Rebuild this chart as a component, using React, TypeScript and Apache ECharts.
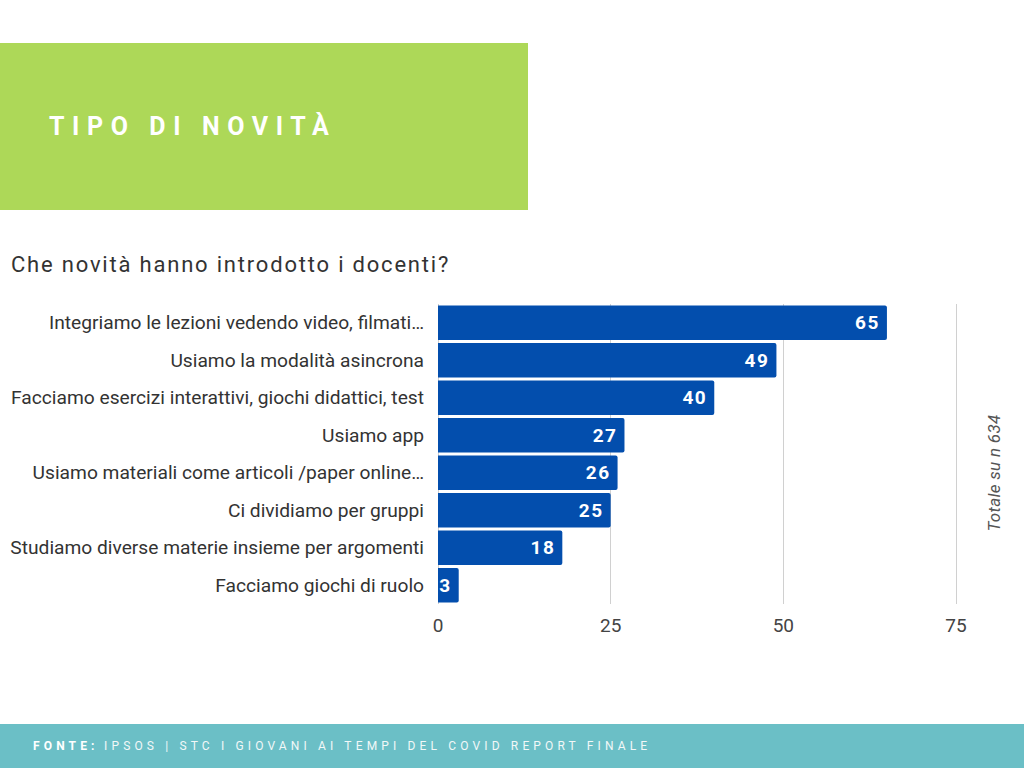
import React, { useEffect, useRef } from "react";
import * as echarts from "echarts";

const categories = [
  "Integriamo le lezioni vedendo video, filmati…",
  "Usiamo la modalità asincrona",
  "Facciamo esercizi interattivi, giochi didattici, test",
  "Usiamo app",
  "Usiamo materiali come articoli /paper online…",
  "Ci dividiamo per gruppi",
  "Studiamo diverse materie insieme per argomenti",
  "Facciamo giochi di ruolo",
];
const values = [65, 49, 40, 27, 26, 25, 18, 3];
const axisTicks = [0, 25, 50, 75];

const titleText = "TIPO DI NOVITÀ";
const subtitleText = "Che novità hanno introdotto i docenti?";
const noteText = "Totale su n 634";
const sourceLabel = "FONTE:";
const sourceText = "IPSOS | STC I GIOVANI AI TEMPI DEL COVID REPORT FINALE";

export default function App() {
  const ref = useRef<HTMLDivElement>(null);
  useEffect(() => {
    if (!ref.current) return;
    const chart = echarts.init(ref.current, undefined, { renderer: "svg" });
    const font = "Roboto, 'Noto Sans', sans-serif";
    chart.setOption({
      animation: false,
      backgroundColor: "#ffffff",
      textStyle: { fontFamily: font },
      grid: { left: 438, right: 68, top: 304, bottom: 164, containLabel: false },
      xAxis: {
        type: "value",
        min: axisTicks[0],
        max: axisTicks[axisTicks.length - 1],
        interval: 25,
        axisLine: { show: false },
        axisTick: { show: false },
        splitLine: { show: true, lineStyle: { color: "#d0d0d0", width: 1 } },
        axisLabel: { color: "#444444", fontSize: 19, margin: 12, fontFamily: font },
      },
      yAxis: {
        type: "category",
        data: categories,
        inverse: true,
        axisLine: { show: false },
        axisTick: { show: false },
        axisLabel: { color: "#333", fontSize: 19.2, margin: 14, fontFamily: font },
      },
      series: [
        {
          type: "bar",
          data: values,
          barCategoryGap: "8%",
          itemStyle: { color: "#034ead", borderRadius: [0, 2, 2, 0] },
          label: {
            show: true,
            position: "insideRight",
            color: "#ffffff",
            fontWeight: "bold",
            fontSize: 19,
            distance: 7,
            fontFamily: font,
          },
        },
      ],
      graphic: [
        { type: "rect", left: 0, top: 43, shape: { width: 528, height: 167 }, style: { fill: "#add858" }, silent: true },
        {
          type: "text",
          x: 49,
          y: 126,
          style: { text: titleText, fill: "#ffffff", font: `bold 25px ${font}`, verticalAlign: "middle" },
          silent: true,
        },
        {
          type: "text",
          x: 11,
          y: 264,
          style: { text: subtitleText, fill: "#333333", font: `22px ${font}`, verticalAlign: "middle" },
          silent: true,
        },
        {
          type: "text",
          x: 994,
          y: 473,
          rotation: Math.PI / 2,
          style: {
            text: noteText,
            fill: "#555555",
            font: `italic 17px ${font}`,
            align: "center",
            verticalAlign: "middle",
          },
          silent: true,
        },
        { type: "rect", left: 0, top: 724, shape: { width: 1024, height: 44 }, style: { fill: "#6bbfc6" }, silent: true },
        {
          type: "text",
          x: 33,
          y: 746,
          style: { text: sourceLabel, fill: "#ffffff", font: `bold 12px ${font}`, verticalAlign: "middle" },
          silent: true,
        },
        {
          type: "text",
          x: 104,
          y: 746,
          style: { text: sourceText, fill: "#f2f8f8", font: `12px ${font}`, verticalAlign: "middle" },
          silent: true,
        },
      ],
    });
    // letter spacing for the spaced-out texts (SVG presentation attribute)
    const svg = ref.current.querySelector("svg");
    if (svg) {
      svg.querySelectorAll("text").forEach((t) => {
        const s = t.textContent || "";
        const fill = (t.getAttribute("fill") || "").toLowerCase();
        if (s === titleText) t.setAttribute("letter-spacing", "7.6px");
        else if (s === sourceLabel || s === sourceText) t.setAttribute("letter-spacing", "4.15px");
        else if (s === subtitleText) t.setAttribute("letter-spacing", "1.8px");
        else if (s === noteText) t.setAttribute("letter-spacing", "0.3px");
        else if (values.map(String).includes(s) && !fill.includes("444")) t.setAttribute("letter-spacing", "1.5px");
      });
    }
    return () => chart.dispose();
  }, []);
  return (
    <div
      ref={ref}
      style={{ position: "absolute", left: 0, top: 0, width: 1024, height: 768 }}
    />
  );
}
